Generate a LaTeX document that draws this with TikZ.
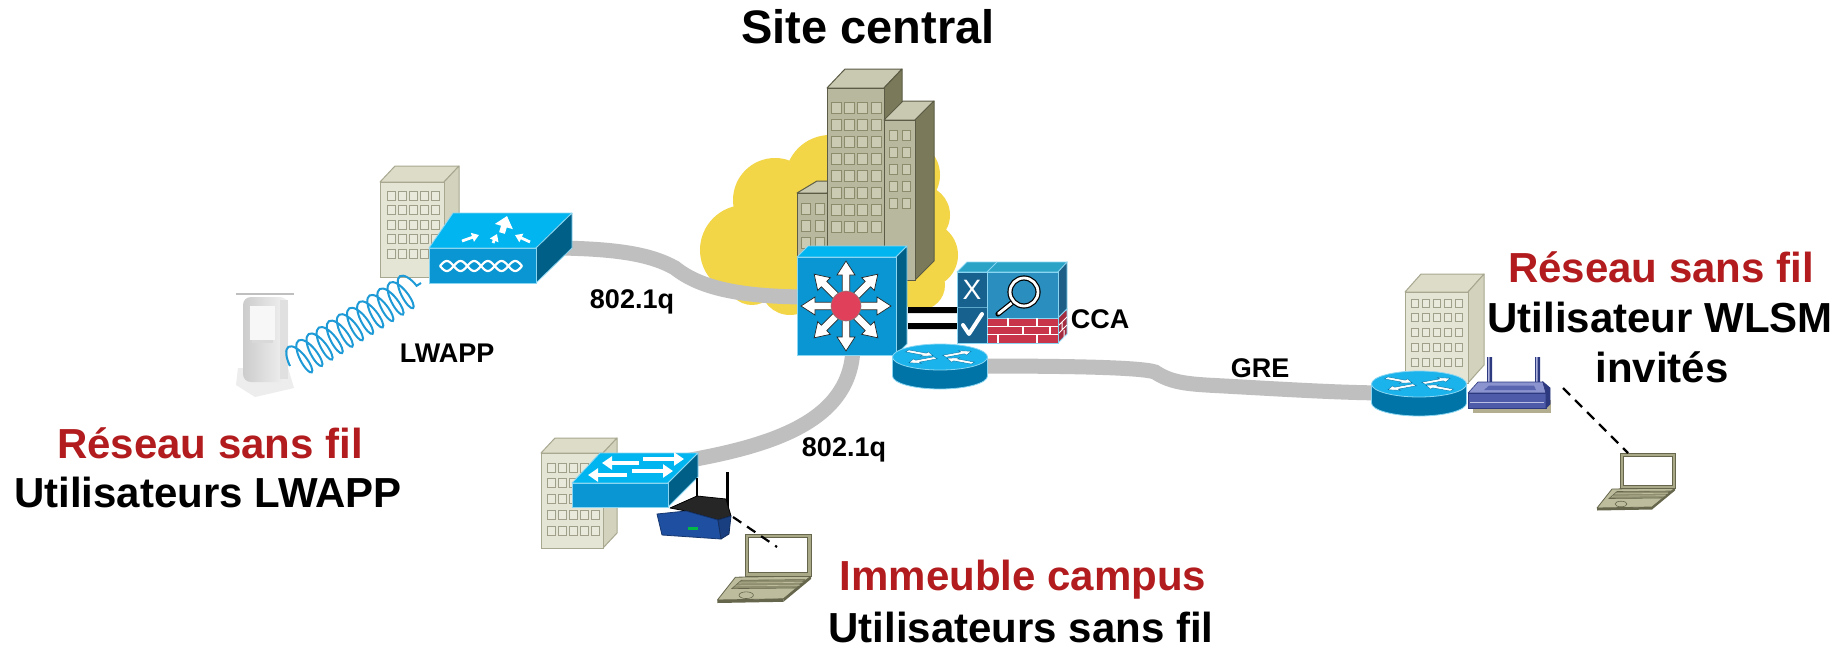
\documentclass[tikz,border=0pt]{standalone}
\usepackage{fontspec}
\setmainfont{Liberation Sans}
\usetikzlibrary{arrows.meta,decorations.pathmorphing}

% palette
\definecolor{cloudY}{HTML}{F2D648}
\definecolor{pipeG}{HTML}{BFBFBF}
\definecolor{labelRed}{HTML}{B21C1E}
\definecolor{ciscoFront}{HTML}{0A96D2}
\definecolor{ciscoTop}{HTML}{00B5F0}
\definecolor{ciscoSide}{HTML}{005F86}
\definecolor{ciscoEdge}{HTML}{8AD6F2}
\definecolor{rtTop}{HTML}{1AB3EC}
\definecolor{rtBody}{HTML}{0074A6}
\definecolor{coreRed}{HTML}{E0405A}
\definecolor{twrFront}{HTML}{B8B89F}
\definecolor{twrSide}{HTML}{7A7A5A}
\definecolor{twrTop}{HTML}{C9C8B1}
\definecolor{twrWin}{HTML}{CBCAB3}
\definecolor{twrWinL}{HTML}{8C8B6B}
\definecolor{twrLine}{HTML}{5C5C46}
\definecolor{ltFront}{HTML}{E5E5D5}
\definecolor{ltSide}{HTML}{D2D2BD}
\definecolor{ltTop}{HTML}{DCDCC9}
\definecolor{ltWin}{HTML}{E9E9DC}
\definecolor{ltWinL}{HTML}{A09F8A}
\definecolor{ltLine}{HTML}{A8A890}
\definecolor{ccaDark}{HTML}{17618F}
\definecolor{ccaBlue}{HTML}{2A8FBE}
\definecolor{ccaTop}{HTML}{2BA3C6}
\definecolor{ccaSide}{HTML}{1D5F86}
\definecolor{brick}{HTML}{C8354B}
\definecolor{brickSide}{HTML}{A42A3E}
\definecolor{coilBlue}{HTML}{1E9AD6}
\definecolor{lapBody}{HTML}{BDBD9E}
\definecolor{lapKey}{HTML}{8F8F70}
\definecolor{lapFrame}{HTML}{A9A887}
\definecolor{lapLine}{HTML}{66664C}
\definecolor{apTop}{HTML}{8C94D0}
\definecolor{apFront}{HTML}{4D5BA8}
\definecolor{apDark}{HTML}{2E3A80}
\definecolor{apShadow}{HTML}{B4AE90}
\definecolor{lkBlue}{HTML}{1F4FA0}

% building: front top-left (#1,#2), width #3, height #4, depth (#5,#6), #7 cols, #8 rows, #9 top margin
\newcommand\bldg[9]{%
  \filldraw[fill=btop,draw=bline,line join=round,line width=0.5pt] (#1,#2) -- ++(#5,-#6) -- ++(#3,0) -- ++(-#5,#6) -- cycle;
  \filldraw[fill=bside,draw=bline,line join=round,line width=0.5pt] (#1+#3,#2) -- ++(#5,-#6) -- ++(0,#4) -- ++(-#5,#6) -- cycle;
  \filldraw[fill=bfront,draw=bline,line width=0.5pt] (#1,#2) rectangle ++(#3,#4);
  \foreach \i in {1,...,#7}{\foreach \j in {1,...,#8}{
    \filldraw[fill=bwin,draw=bwinl,line width=0.4pt] ({#1+\wmx+(\i-1)*\wpx},{#2+#9+(\j-1)*\wpy}) rectangle ++(\wsx,\wsy);}}%
}
\newcommand\winfmt[5]{\def\wmx{#1}\def\wpx{#2}\def\wsx{#3}\def\wpy{#4}\def\wsy{#5}}
\newcommand\darkbldg{\colorlet{bfront}{twrFront}\colorlet{bside}{twrSide}\colorlet{btop}{twrTop}\colorlet{bwin}{twrWin}\colorlet{bwinl}{twrWinL}\colorlet{bline}{twrLine}}
\newcommand\lightbldg{\colorlet{bfront}{ltFront}\colorlet{bside}{ltSide}\colorlet{btop}{ltTop}\colorlet{bwin}{ltWin}\colorlet{bwinl}{ltWinL}\colorlet{bline}{ltLine}}

% block arrow: [style]{angle}{r0}{r1}{half shaft}{half head}{head length}
\newcommand\arr[7][]{%
  \pgfmathsetmacro\hz{#4-#7*sign(#4-#3)}%
  \filldraw[#1,rotate=#2] (#3,-#5) -- (\hz,-#5) -- (\hz,-#6) -- (#4,0) -- (\hz,#6) -- (\hz,#5) -- (#3,#5) -- cycle;}

% router cylinder, top centre at (#1,#2)
\newcommand\router[2]{%
  \begin{scope}[shift={(#1,#2)}]
    \filldraw[fill=rtBody,draw=ciscoEdge,line width=0.4pt] (-47.5,0) -- (-47.5,19)
      arc[start angle=180,end angle=360,x radius=23.75pt,y radius=6.5pt] -- (47.5,0) -- cycle;
    \filldraw[fill=rtTop,draw=ciscoEdge,line width=0.4pt] (0,0) ellipse[x radius=23.75pt,y radius=6.5pt];
    \begin{scope}[yscale=0.32]
      \arr[fill=white,draw=rtBody,line width=0.2pt]{30}{5}{36}{3.5}{8}{10}
      \arr[fill=white,draw=rtBody,line width=0.2pt]{210}{5}{36}{3.5}{8}{10}
      \arr[fill=white,draw=rtBody,line width=0.2pt]{150}{38}{8}{3.5}{8}{10}
      \arr[fill=white,draw=rtBody,line width=0.2pt]{330}{38}{8}{3.5}{8}{10}
    \end{scope}
  \end{scope}}

% laptop, screen top-left at (#1,#2), scale #3
\newcommand\laptop[3]{%
  \begin{scope}[shift={(#1,#2)},scale=#3]
    \filldraw[fill=lapBody,draw=lapLine,line width=0.4pt,line join=round] (-8,36) -- (55,35) -- (32,54) -- (-23,55) -- cycle;
    \fill[lapLine] (-23,55) -- (32,54) -- (32,56.5) -- (-23,57.5) -- cycle;
    \fill[lapLine] (32,54) -- (55,35) -- (55,37.5) -- (32,56.5) -- cycle;
    \filldraw[fill=lapKey,draw=lapLine,line width=0.3pt] (-3,38.5) -- (50,38) -- (43,45) -- (-11,45.5) -- cycle;
    \draw[lapBody,line width=0.3pt] (-5,40.8) -- (48,40.3) (-8,43.2) -- (45.5,42.7);
    \draw[lapLine,line width=0.3pt] (1,51) ellipse[x radius=3pt,y radius=1.4pt];
    \filldraw[fill=lapFrame,draw=lapLine,line width=0.5pt] (0,0) rectangle (55,35);
    \filldraw[fill=white,draw=lapLine,line width=0.3pt] (3,3) rectangle (52,32);
  \end{scope}}

\tikzset{
  pipe/.style={draw=pipeG,line width=7.5pt},
  wifi/.style={draw=black,line width=1.1pt,dash pattern=on 5pt off 3.5pt},
  bigred/.style={font=\fontsize{21}{25}\selectfont\bfseries,text=labelRed,anchor=base,inner sep=0pt},
  bigtxt/.style={font=\fontsize{21}{25}\selectfont\bfseries,anchor=base,inner sep=0pt},
  smalltxt/.style={font=\fontsize{13.5}{16}\selectfont\bfseries,anchor=base,inner sep=0pt},
  titletxt/.style={font=\fontsize{23.5}{28}\selectfont\bfseries,anchor=base,inner sep=0pt},
  flatarrow/.style={draw=white,line width=2.2pt,-{Triangle[length=5pt,width=6.5pt]}},
}

\begin{document}
\begin{tikzpicture}[x=0.5pt,y=-0.5pt]
\useasboundingbox (0,0) rectangle (1845,648);
\fill[white] (0,0) rectangle (1845,648);

% ---------- cloud behind the central site ----------
\fill[cloudY] (745,250) circle[radius=22.5pt] (775,200) circle[radius=21pt]
  (830,180) circle[radius=22.5pt] (905,175) circle[radius=17.5pt]
  (920,215) circle[radius=15pt] (925,255) circle[radius=16.5pt]
  (920,285) circle[radius=12.5pt] (790,285) circle[radius=15pt]
  (850,280) circle[radius=17.5pt] (752,280) circle[radius=12.5pt]
  (760,200) rectangle (930,295);

% ---------- central towers ----------
\darkbldg
\winfmt{4}{14}{9}{17}{11}
\bldg{797}{193}{30}{110}{20}{12}{2}{4}{10}
\winfmt{4}{13.3}{10}{17.1}{11}
\bldg{827}{88}{57}{192}{18}{19}{4}{8}{14}
\winfmt{5}{13}{8}{17}{10}
\bldg{884}{120}{31}{160}{19}{19}{2}{5}{10}

% ---------- outlying buildings ----------
\lightbldg
\winfmt{7}{11}{8}{14.5}{9}
\bldg{380}{182}{64}{95}{15}{16}{5}{5}{9}
\winfmt{6}{11}{8}{15.8}{9}
\bldg{541}{453}{62}{95}{14}{15}{5}{5}{10}
\winfmt{6}{11}{7}{14.75}{8}
\bldg{1405}{292}{63}{91}{16}{18}{5}{5}{7}

% ---------- anchor points for the links ----------
\coordinate (wlcR) at (560,248);
\coordinate (coreL) at (810,297);
\coordinate (coreB) at (853,345);
\coordinate (campR) at (685,461);
\coordinate (coreRt) at (975,366);
\coordinate (remRt) at (1390,393);

% ---------- links ----------
\draw[pipe] (wlcR) .. controls (620,249) and (652,255) .. (675,268)
  .. controls (700,288) and (740,297) .. (coreL);
\draw[pipe] (coreB) .. controls (853,420) and (775,445) .. (campR);
\draw[pipe] (coreRt) .. controls (1060,366) and (1140,367) .. (1155,372)
  .. controls (1170,382) and (1185,384) .. (1215,385.5)
  .. controls (1280,389) and (1340,393) .. (remRt);

% ---------- wireless LAN controller ----------
\filldraw[fill=ciscoTop,draw=ciscoEdge,line width=0.4pt,line join=round] (429,248) -- (453,213) -- (572,213) -- (536,248) -- cycle;
\filldraw[fill=ciscoSide,draw=ciscoEdge,line width=0.4pt,line join=round] (536,248) -- (572,213) -- (572,248) -- (536,283) -- cycle;
\filldraw[fill=ciscoFront,draw=ciscoEdge,line width=0.4pt] (429,248) rectangle (536,283);
\draw[white,line width=1.1pt,domain=0:82,samples=90,smooth] plot ({440+\x},{266+5*sin(180*\x/13.67)});
\draw[white,line width=1.1pt,domain=0:82,samples=90,smooth] plot ({440+\x},{266-5*sin(180*\x/13.67)});
\draw[draw=white,line width=1.4pt,-{Triangle[length=3.5pt,width=4.5pt]}] (462,241) -- (479,235);
\draw[draw=white,line width=1.4pt,-{Triangle[length=3.5pt,width=4.5pt]}] (493,243) -- (497,234);
\draw[draw=white,line width=1.4pt,-{Triangle[length=3.5pt,width=4.5pt]}] (530,242) -- (515,235);
\draw[draw=white,line width=3pt,-{Triangle[length=5.5pt,width=9pt]}] (502,233) -- (507,216);

% ---------- faded access point (left) ----------
\fill[gray!14] (238,368) -- (288,368) -- (294,388) -- (255,397) -- (236,385) -- cycle;
\shade[left color=gray!40,right color=gray!10,rounded corners=4pt] (243,297) rectangle (288,382);
\fill[gray!24] (280,300) rectangle (288,379);
\fill[gray!6] (250,306) rectangle (275,340);
\fill[gray!30] (252,340) rectangle (273,343);
\draw[gray!50,line width=1pt] (236,294) -- (294,294);
\coordinate (apL) at (290,366);
\coordinate (wlcAir) at (421,283);
\draw[coilBlue,line width=1pt,decorate,decoration={coil,aspect=0.35,segment length=6pt,amplitude=8.5pt}] (apL) -- (wlcAir);

% ---------- core multilayer switch ----------
\filldraw[fill=ciscoTop,draw=ciscoEdge,line width=0.4pt,line join=round] (797,257) -- (808,246) -- (907,246) -- (896,257) -- cycle;
\filldraw[fill=ciscoSide,draw=ciscoEdge,line width=0.4pt,line join=round] (896,257) -- (907,246) -- (907,344) -- (896,355) -- cycle;
\filldraw[fill=ciscoFront,draw=ciscoEdge,line width=0.4pt] (797,257) rectangle (896,355);
\begin{scope}[shift={(846,306)}]
  \foreach \a in {0,45,...,315}{\arr[fill=white,draw=black!85,line width=0.35pt]{\a}{12}{45}{3.8}{9}{14}}
  \filldraw[fill=coreRed,draw=black!50,line width=0.3pt] (0,0) circle[radius=7.5pt];
\end{scope}

% ---------- links to the access control appliance ----------
\fill[black] (908,307) rectangle (957,313) (908,323) rectangle (957,329);

% ---------- access control appliance ----------
\filldraw[fill=ccaTop,draw=ciscoEdge,line width=0.4pt,line join=round] (957,272) -- (967,262) -- (1067,262) -- (1058,272) -- cycle;
\draw[ciscoEdge,line width=0.4pt] (987,272) -- (997,262);
\filldraw[fill=ccaSide,draw=ciscoEdge,line width=0.4pt] (1058,272) -- (1067,262) -- (1067,309) -- (1058,318) -- cycle;
\filldraw[fill=brickSide,draw=ciscoEdge,line width=0.4pt] (1058,318) -- (1067,309) -- (1067,334) -- (1058,343) -- cycle;
\draw[white,line width=0.5pt] (1058,326) -- (1067,317) (1058,334) -- (1067,325) (1062,322) -- (1062,330) (1064,330) -- (1064,338);
\filldraw[fill=ccaDark,draw=ciscoEdge,line width=0.4pt] (957,272) rectangle (987,343);
\draw[ciscoEdge!60!ccaDark,line width=0.6pt] (957,307.5) -- (987,307.5);
\filldraw[fill=ccaBlue,draw=ciscoEdge,line width=0.4pt] (987,272) rectangle (1058,318);
\filldraw[fill=brick,draw=ciscoEdge,line width=0.4pt] (987,318) rectangle (1058,343);
\draw[white,line width=0.6pt] (987,326.5) -- (1058,326.5) (987,334.5) -- (1058,334.5)
  (1008,318) -- (1008,326.5) (1037,318) -- (1037,326.5)
  (1023,326.5) -- (1023,334.5) (1050,326.5) -- (1050,334.5)
  (998,334.5) -- (998,343) (1037,334.5) -- (1037,343);
\draw[black,line width=2.6pt,line cap=round] (1013,302) -- (998,314);
\draw[white,line width=1.4pt,line cap=round] (1013,302) -- (998.5,313.6);
\draw[black,line width=2.6pt] (1024,292) circle[radius=7pt];
\draw[white,line width=1.4pt] (1024,292) circle[radius=7pt];
\node[font=\fontsize{14}{16}\selectfont,text=white,inner sep=0pt] (ccaX) at (972,290) {X};
\draw[white,line width=2pt,line join=round,line cap=round] (963,325) -- (969,334) -- (982,314);

% ---------- routers ----------
\router{940}{357}
\router{1419}{384}

% ---------- campus access switch ----------
\filldraw[fill=ciscoTop,draw=ciscoEdge,line width=0.4pt,line join=round] (572,483) -- (600,453) -- (698,453) -- (668,483) -- cycle;
\filldraw[fill=ciscoSide,draw=ciscoEdge,line width=0.4pt,line join=round] (668,483) -- (698,453) -- (698,477) -- (668,507) -- cycle;
\filldraw[fill=ciscoFront,draw=ciscoEdge,line width=0.4pt] (572,483) rectangle (668,507);
\draw[flatarrow] (639,463) -- (602,463);
\draw[flatarrow] (643,459) -- (684,459);
\draw[flatarrow] (627,475) -- (588,475);
\draw[flatarrow] (632,471) -- (673,471);

% ---------- campus wireless router ----------
\draw[black,line width=1.3pt] (697,478) -- (697,500);
\draw[black,line width=1.5pt] (727,472) -- (727,515);
\filldraw[fill=black!85,draw=black,line join=round] (670,508) -- (697,496) -- (726,499) -- (731,516) -- (718,520) -- (686,511) -- cycle;
\filldraw[fill=lkBlue,draw=lkBlue!70!black,line join=round,line width=0.4pt] (657,514) -- (686,511) -- (718,520) -- (721,539) -- (662,535) -- cycle;
\filldraw[fill=lkBlue!80!black,draw=lkBlue!60!black,line join=round,line width=0.4pt] (718,520) -- (731,516) -- (729,534) -- (721,539) -- cycle;
\fill[green!45!teal] (688,527) rectangle (698,530);
\coordinate (lkR) at (733,517);

% ---------- guest access point ----------
\fill[apShadow] (1473,400) rectangle (1551,413);
\fill[apDark] (1487,357) rectangle (1492,384) (1535,357) rectangle (1540,384);
\fill[apTop!70!white] (1488,357) rectangle (1489.5,384) (1536,357) rectangle (1537.5,384);
\filldraw[fill=apTop,draw=apDark,line width=0.3pt,line join=round] (1478,382) -- (1543,382) -- (1546,393) -- (1468,393) -- cycle;
\fill[apFront!80!apTop] (1489,385.5) -- (1534,385.5) -- (1536,390) -- (1484,390) -- cycle;
\filldraw[fill=apFront,draw=apDark,line width=0.3pt] (1468,393) rectangle (1546,408);
\draw[apTop!60!white,line width=0.5pt] (1470,402) -- (1544,402);
\filldraw[fill=apDark,draw=apDark] (1543,382) -- (1550,388) -- (1550,404) -- (1546,408) -- (1546,393) -- cycle;
\coordinate (apR) at (1563,388);

% ---------- laptops ----------
\laptop{745}{534}{1.2}
\laptop{1620}{453}{1}
\coordinate (lapC) at (777,547);
\coordinate (lapR) at (1628,453);
\draw[wifi] (lkR) -- (lapC);
\draw[wifi] (apR) -- (lapR);

% ---------- labels ----------
\node[titletxt] (siteTitle) at (868,43) {Site central};
\node[smalltxt] (dot1qA) at (632,308) {802.1q};
\node[smalltxt] (lwappLbl) at (447,362) {LWAPP};
\node[smalltxt] (dot1qB) at (844,456) {802.1q};
\node[smalltxt] (greLbl) at (1260,377) {GRE};
\node[smalltxt] (ccaLbl) at (1100,328) {CCA};

\node[bigred] (leftHead) at (210,458) {Réseau sans fil};
\node[bigtxt] (leftSub) at (208,507) {Utilisateurs LWAPP};
\node[bigred] (campHead) at (1023,590) {Immeuble campus};
\node[bigtxt] (campSub) at (1021,642) {Utilisateurs sans fil};
\node[bigred] (rightHead) at (1661,282) {Réseau sans fil};
\node[bigtxt] (rightSub) at (1660,332) {Utilisateur WLSM};
\node[bigtxt] (rightSub2) at (1662,382) {invités};
\end{tikzpicture}
\end{document}
